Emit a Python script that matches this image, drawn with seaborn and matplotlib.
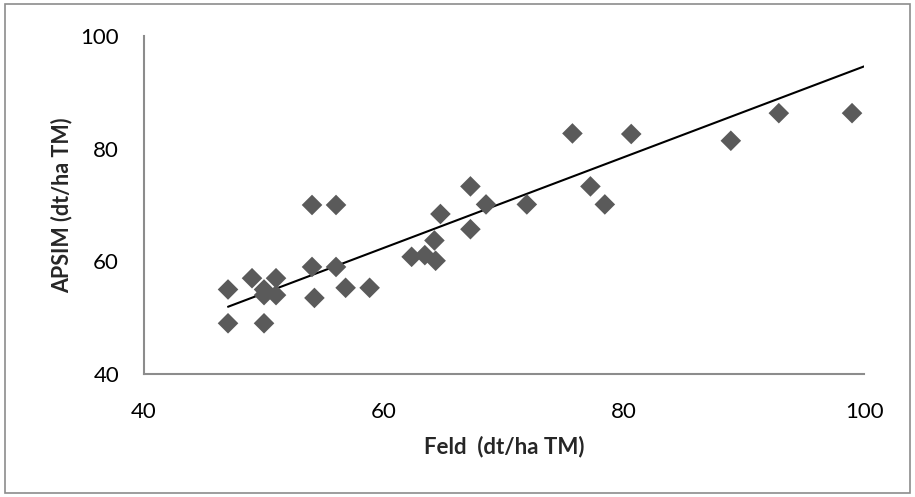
import numpy as np
import pandas as pd
import matplotlib
matplotlib.use("Agg")
import matplotlib.pyplot as plt
import seaborn as sns
from matplotlib.patches import Rectangle

# DATA
feld = [47, 47, 49, 50, 50, 50, 51, 51, 54, 54, 54.2, 56, 56, 56.8, 58.8,
        62.3, 63.4, 64.2, 64.3, 64.7, 67.2, 67.2, 68.5, 71.9, 75.7, 77.2,
        78.4, 80.6, 88.9, 92.9, 99.0]
apsim = [55, 49, 57, 55, 54, 49, 57, 54, 70, 59, 53.5, 70, 59, 55.3, 55.3,
         60.8, 61.1, 63.7, 60.1, 68.4, 73.3, 65.7, 70.1, 70.1, 82.7, 73.3,
         70.1, 82.6, 81.4, 86.3, 86.3]
x_ticks = [40, 60, 80, 100]
y_ticks = [40, 60, 80, 100]

# trendline as drawn in the reference
trend_slope = 0.805
trend_intercept = 14.1

df = pd.DataFrame({"Feld": feld, "APSIM": apsim})

sns.set_style("white")
plt.rcParams["font.family"] = ["Lato", "DejaVu Sans"]

fig = plt.figure(figsize=(9.15, 4.97), dpi=100)
ax = fig.add_axes([0.1574, 0.2475, 0.7869, 0.6801])

sns.scatterplot(data=df, x="Feld", y="APSIM", marker="D", s=110,
                color="#5a5a5a", edgecolor="none", ax=ax, zorder=3)

# linear trendline
xs = np.array([df["Feld"].min(), 100])
ax.plot(xs, trend_slope * xs + trend_intercept, color="black", lw=1.5, zorder=2)

ax.set_xlim(40, 100)
ax.set_ylim(40, 100)
ax.set_xticks(x_ticks)
ax.set_yticks(y_ticks)
ax.tick_params(axis="both", direction="out", length=6, width=1.2,
               color="#8c8c8c", labelsize=16, labelcolor="black")
ax.tick_params(axis="y", pad=12)
ax.tick_params(axis="x", pad=14)
for side in ["top", "right"]:
    ax.spines[side].set_visible(False)
for side in ["left", "bottom"]:
    ax.spines[side].set_color("#8c8c8c")
    ax.spines[side].set_linewidth(1.5)

ax.set_xlabel("Feld  (dt/ha TM)", fontsize=16, fontweight="bold", labelpad=10)
ax.set_ylabel("APSIM (dt/ha TM)", fontsize=15.5, fontweight="bold", labelpad=6)

# chart area border
fig.patches.append(Rectangle((0.005, 0.008), 0.99, 0.984, transform=fig.transFigure,
                             fill=False, edgecolor="#8c8c8c", lw=1.2))

fig.savefig("out.png", dpi=100)
